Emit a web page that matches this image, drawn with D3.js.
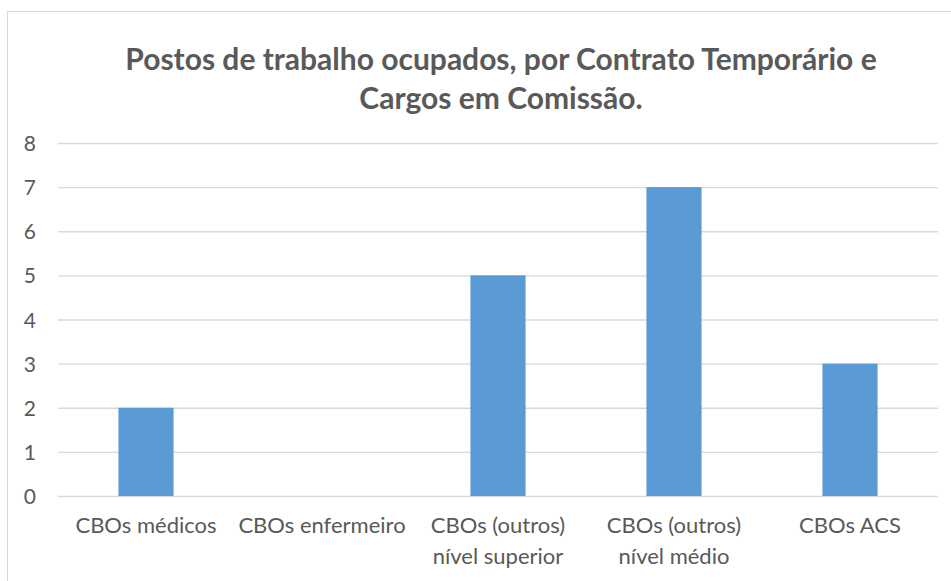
<!DOCTYPE html>
<html>
<head>
<meta charset="utf-8">
<script src="https://cdn.jsdelivr.net/npm/d3@7"></script>
<style>
  body { margin: 0; background: #fff; }
  svg { display: block; }
</style>
</head>
<body>
<div id="chart"></div>
<script>
/* Data */
var categories = [
  ["CBOs médicos"],
  ["CBOs enfermeiro"],
  ["CBOs (outros)", "nível superior"],
  ["CBOs (outros)", "nível médio"],
  ["CBOs ACS"]
];
var values = [2, 0, 5, 7, 3];
var yTicks = [0, 1, 2, 3, 4, 5, 6, 7, 8];
var titleLines = ["Postos de trabalho ocupados, por Contrato Temporário e", "Cargos em Comissão."];

/* Size */
var width = 951,
    height = 581,
    fontFamily = "Lato, 'Open Sans', sans-serif",
    textColor = "#595959";

var plot = { left: 58, right: 938, top: 143, bottom: 496 };

var svg = d3.select("#chart")
    .append("svg")
    .attr("width", width)
    .attr("height", height);

/* Chart border (cut at right and bottom) */
svg.append("rect")
    .attr("x", 7.5)
    .attr("y", 11.5)
    .attr("width", 960)
    .attr("height", 600)
    .attr("fill", "#fff")
    .attr("stroke", "#d9d9d9")
    .attr("stroke-width", 1);

var x = d3.scaleBand()
    .domain(d3.range(categories.length))
    .range([plot.left, plot.right])
    .padding(0);

var y = d3.scaleLinear()
    .domain([0, 8])
    .range([plot.bottom, plot.top]);

/* Gridlines + tick labels */
var yAxis = svg.append("g")
    .attr("transform", "translate(" + plot.left + ",0)")
    .call(d3.axisLeft(y)
        .tickValues(yTicks)
        .tickSize(-(plot.right - plot.left))
        .tickPadding(22)
        .tickFormat(d3.format("d")));

yAxis.select(".domain").remove();
yAxis.selectAll(".tick line")
    .attr("stroke", "#d9d9d9")
    .attr("stroke-width", 1.3);
yAxis.selectAll(".tick text")
    .attr("fill", textColor)
    .attr("font-family", fontFamily)
    .attr("font-size", 21)
    .attr("dy", "0.36em");

/* Bars: gap width 219% like Excel */
var barW = x.bandwidth() / 3.19;

svg.append("g")
    .selectAll("rect")
    .data(values)
    .enter().append("rect")
    .attr("x", function(d, i) { return x(i) + (x.bandwidth() - barW) / 2; })
    .attr("y", function(d) { return y(d); })
    .attr("width", barW)
    .attr("height", function(d) { return y(0) - y(d); })
    .attr("fill", "#5b9bd5");

/* Category labels */
var cat = svg.append("g")
    .selectAll("text")
    .data(categories)
    .enter().append("text")
    .attr("text-anchor", "middle")
    .attr("fill", textColor)
    .attr("font-family", fontFamily)
    .attr("font-size", 22)
    .attr("transform", function(d, i) { return "translate(" + (x(i) + x.bandwidth() / 2) + ",533)"; });

cat.selectAll("tspan")
    .data(function(d) { return d; })
    .enter().append("tspan")
    .attr("x", 0)
    .attr("dy", function(d, i) { return i == 0 ? 0 : 31; })
    .text(function(d) { return d; });

/* Title */
svg.append("text")
    .attr("text-anchor", "middle")
    .attr("fill", textColor)
    .attr("font-family", fontFamily)
    .attr("font-size", 30)
    .attr("font-weight", "bold")
    .selectAll("tspan")
    .data(titleLines)
    .enter().append("tspan")
    .attr("x", 501)
    .attr("y", function(d, i) { return 70 + i * 39; })
    .text(function(d) { return d; });
</script>
</body>
</html>
